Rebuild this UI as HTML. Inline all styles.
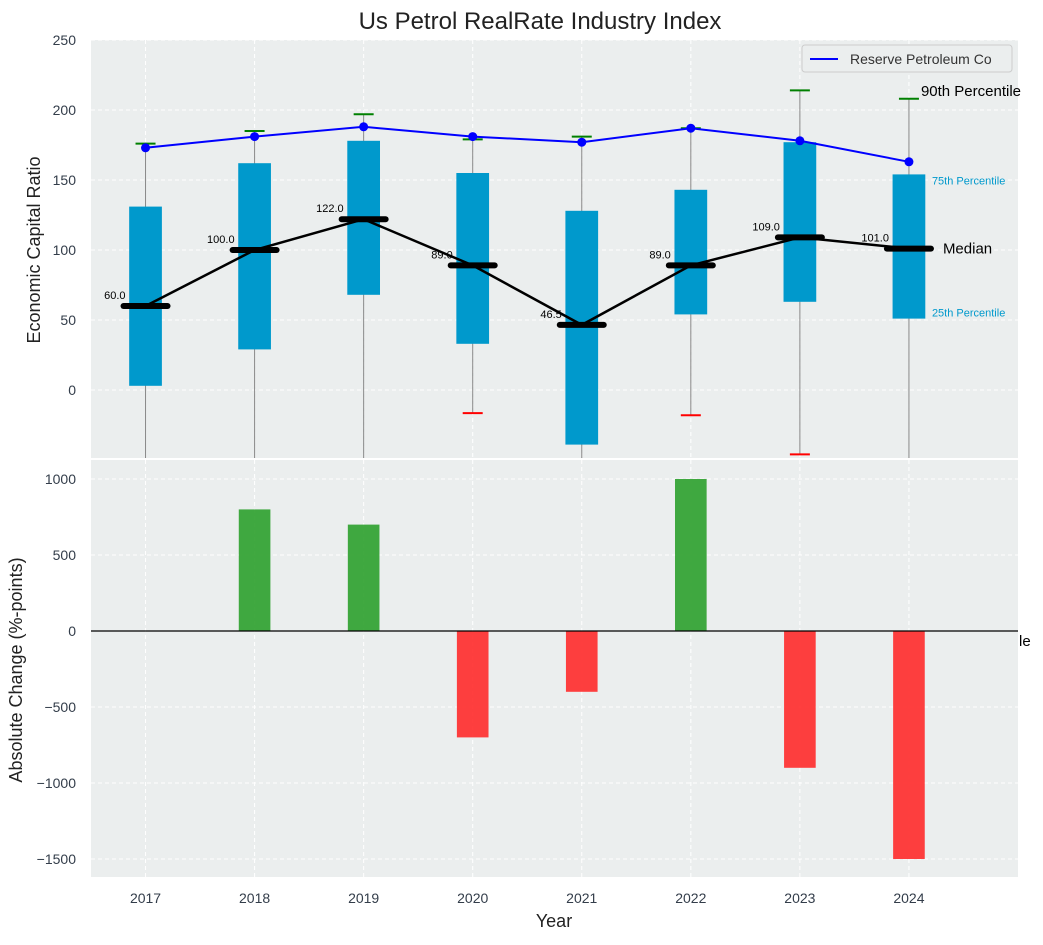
<!DOCTYPE html>
<html><head><meta charset="utf-8"><style>
body{margin:0;background:#fff;font-family:"Liberation Sans",sans-serif}
svg text{font-family:"Liberation Sans","DejaVu Sans",sans-serif}
</style></head><body>
<svg id="c" width="1043" height="940" xmlns="http://www.w3.org/2000/svg"></svg>
<script>
const years=['2017','2018','2019','2020','2021','2022','2023','2024'];
const q1=[3,29,68,33,-39,54,63,51];
const q3=[131,162,178,155,128,143,177,154];
const medians=[60,100,122,89,46.5,89,109,101];
const p90=[176,185,197,179,181,187,214,208];
const p10=[-60,-60,-60,-16.5,-60,-18,-46,-60];
const reserve=[173,181,188,181,177,187,178,163];
const changes=[0,800,700,-700,-400,1000,-900,-1500];
const topTicks=[0,50,100,150,200,250];
const botTicks=[-1500,-1000,-500,0,500,1000];

const svg=document.getElementById('c');const NS='http://www.w3.org/2000/svg';
function el(t,a,txt){const e=document.createElementNS(NS,t);for(const k in a)e.setAttribute(k,a[k]);if(txt!==undefined)e.textContent=txt;svg.appendChild(e);return e;}
const L=91,R=1018;
const x=i=>L+(i+0.5)/8.5*(R-L);
const yT=v=>390-v*1.4;
const yB=v=>631-v*0.152;
let e=el('rect',{x:L,y:40,width:R-L,height:418,fill:'#ebeeee'});

e=el('rect',{x:L,y:460,width:R-L,height:417,fill:'#ebeeee'});

years.forEach((y,i)=>{
 el('line',{x1:x(i),x2:x(i),y1:40,y2:458,stroke:'#fff','stroke-dasharray':'4,3'});
 el('line',{x1:x(i),x2:x(i),y1:460,y2:877,stroke:'#fff','stroke-dasharray':'4,3'});
 e=el('text',{x:x(i),y:903,'text-anchor':'middle','font-size':14,fill:'#333d4a'},y);
 
});
topTicks.forEach(v=>{el('line',{x1:L,x2:R,y1:yT(v),y2:yT(v),stroke:'#fff','stroke-dasharray':'4,3'});
 e=el('text',{x:76,y:yT(v)+5,'text-anchor':'end','font-size':14,fill:'#333d4a'},v);
 });
botTicks.forEach(v=>{el('line',{x1:L,x2:R,y1:yB(v),y2:yB(v),stroke:'#fff','stroke-dasharray':'4,3'});
 e=el('text',{x:76,y:yB(v)+5,'text-anchor':'end','font-size':14,fill:'#333d4a'},String(v).replace('-','−'));
 });
years.forEach((y,i)=>{
 const lo=Math.max(p10[i],-48.6);
 el('line',{x1:x(i),x2:x(i),y1:yT(p90[i]),y2:yT(lo),stroke:'#888','stroke-width':1});
 e=el('line',{x1:x(i)-10,x2:x(i)+10,y1:yT(p90[i]),y2:yT(p90[i]),stroke:'green','stroke-width':2});
 
 if(p10[i]>-48.6){e=el('line',{x1:x(i)-10,x2:x(i)+10,y1:yT(p10[i]),y2:yT(p10[i]),stroke:'red','stroke-width':2});
 }
});
const bw=0.3*(R-L)/8.5;
years.forEach((y,i)=>{
 e=el('rect',{x:x(i)-bw/2,y:yT(q3[i]),width:bw,height:yT(Math.max(q1[i],-48.6))-yT(q3[i]),fill:'#0099cc'});
 
});
e=el('polyline',{points:medians.map((m,i)=>x(i)+','+yT(m)).join(' '),fill:'none',stroke:'#000','stroke-width':2.5});

medians.forEach((m,i)=>{
 e=el('line',{x1:x(i)-22,x2:x(i)+22,y1:yT(m),y2:yT(m),stroke:'#000','stroke-width':6,'stroke-linecap':'round'});
 
 e=el('text',{x:x(i)-20,y:yT(m)-7,'text-anchor':'end','font-size':11,fill:'#000'},m.toFixed(1));
 
});
e=el('polyline',{points:reserve.map((v,i)=>x(i)+','+yT(v)).join(' '),fill:'none',stroke:'blue','stroke-width':2});

reserve.forEach((v,i)=>{e=el('circle',{cx:x(i),cy:yT(v),r:4.5,fill:'blue'});
 });
const last=7;
e=el('text',{x:x(last)+12,y:yT(p90[last])-3,'font-size':15,fill:'#000'},'90th Percentile');
e=el('text',{x:x(last)+23,y:yT(q3[last])+10,'font-size':11,fill:'#0099cc'},'75th Percentile');
e=el('text',{x:x(last)+34,y:yT(medians[last])+5,'font-size':15,fill:'#000'},'Median');
e=el('text',{x:x(last)+23,y:yT(q1[last])-2,'font-size':11,fill:'#0099cc'},'25th Percentile');
e=el('text',{x:1019,y:646,'font-size':15,fill:'#000'},'le');
const barW=0.29*(R-L)/8.5;
changes.forEach((v,i)=>{
 e=el('rect',{x:x(i)-barW/2,y:Math.min(yB(v),yB(0)),width:barW,height:Math.abs(yB(v)-yB(0)),fill:v>=0?'#2ca02c':'#ff2a2a','fill-opacity':0.9});
 
});
el('line',{x1:L,x2:R,y1:yB(0),y2:yB(0),stroke:'#000','stroke-width':1.2});
e=el('rect',{x:802,y:45,width:210,height:27,fill:'#ebeeee',stroke:'#ccc',rx:3});
el('line',{x1:810,x2:838,y1:59,y2:59,stroke:'blue','stroke-width':2});
e=el('text',{x:850,y:64,'font-size':14,fill:'#333'},'Reserve Petroleum Co');
e=el('text',{x:540,y:29,'text-anchor':'middle','font-size':24,fill:'#222'},'Us Petrol RealRate Industry Index');
e=el('text',{x:40,y:250,'text-anchor':'middle','font-size':18,fill:'#222',transform:'rotate(-90 40 250)'},'Economic Capital Ratio');
e=el('text',{x:22,y:670,'text-anchor':'middle','font-size':18,fill:'#222',transform:'rotate(-90 22 670)'},'Absolute Change (%-points)');
e=el('text',{x:554,y:927,'text-anchor':'middle','font-size':18,fill:'#222'},'Year');
</script>
</body></html>
